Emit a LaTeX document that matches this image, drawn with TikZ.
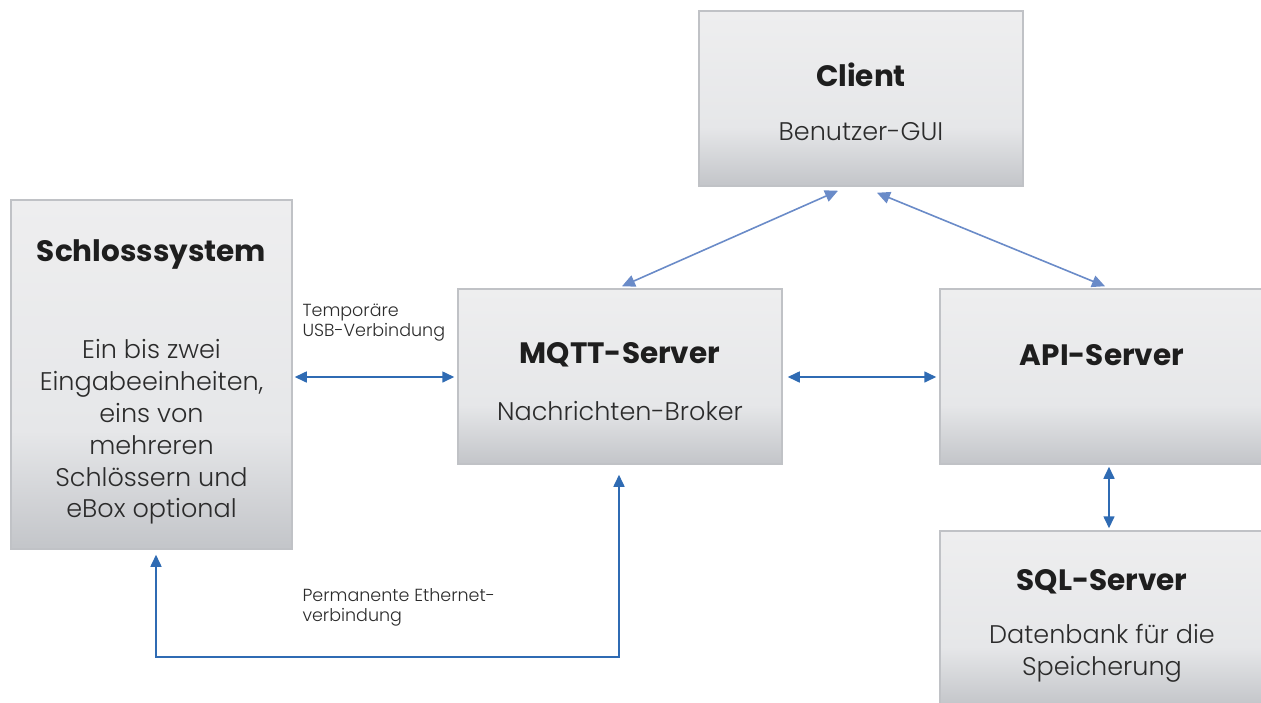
\documentclass[tikz,border=0pt]{standalone}
\usepackage{fontspec}
\setmainfont{Poppins}
\newfontfamily\lightfont{Poppins Light}
\usetikzlibrary{arrows.meta,calc}
\definecolor{boxtop}{HTML}{EEEEEF}
\definecolor{boxmid}{HTML}{E6E7E9}
\definecolor{boxbot}{HTML}{C3C5C9}
\definecolor{boxline}{HTML}{C0C2C6}
\definecolor{linkdark}{HTML}{2F6BB3}
\definecolor{linklight}{HTML}{6A8BC8}
\definecolor{ink}{HTML}{1E1E1E}
\definecolor{softink}{HTML}{2B2B2B}
\pgfdeclareverticalshading{boxshade}{100bp}{%
  color(0bp)=(boxbot); color(25bp)=(boxbot); color(42bp)=(boxmid);
  color(75bp)=(boxtop); color(100bp)=(boxtop)}
\tikzset{
  panel/.style={rectangle, draw=boxline, line width=1.5pt, shading=boxshade,
    inner sep=0pt, minimum width=324pt, minimum height=175pt},
  title/.style={font=\fontsize{29.5}{34}\selectfont\bfseries, text=ink},
  body/.style={font=\lightfont\fontsize{25.5}{31.8}\selectfont, text=softink, align=center},
  note/.style={font=\lightfont\fontsize{17.5}{20.5}\selectfont, text=softink, align=left, anchor=north west},
  link/.style={draw=linkdark, line width=1.6pt, {Triangle[length=12pt,width=11pt]}-{Triangle[length=12pt,width=11pt]}},
  softlink/.style={draw=linklight, line width=1.6pt, {Triangle[length=13pt,width=12pt]}-{Triangle[length=13pt,width=12pt]}},
}
\begin{document}
\begin{tikzpicture}[x=1pt,y=-1pt]
\useasboundingbox (0,0) rectangle (1261,702);
\clip (0,0) rectangle (1261,702);

% boxes
\node[panel] (client) at (861,98.5) {};
\node[panel, minimum width=281pt, minimum height=349pt] (schloss) at (151.5,374.5) {};
\node[panel] (mqtt) at (620,376.5) {};
\node[panel, minimum width=338pt] (api) at (1109,376.5) {};
\node[panel, minimum width=338pt] (sql) at (1109,618.5) {};

% box texts
\node[title] (client-t) at (861,75) {Client};
\node[body] (client-b) at (861,132) {Benutzer-GUI};
\node[title] (schloss-t) at (151.5,254) {Schlosssystem};
\node[body] (schloss-b) at (151.5,432) {Ein bis zwei\\Eingabeeinheiten,\\eins von\\mehreren\\Schlössern und\\eBox optional};
\node[title] (mqtt-t) at (620,355) {MQTT-Server};
\node[body] (mqtt-b) at (620,411) {Nachrichten-Broker};
\node[title] (api-t) at (1102,355) {API-Server};
\node[title] (sql-t) at (1102,582) {SQL-Server};
\node[body] (sql-b) at (1102,653) {Datenbank für die\\Speicherung};

% connector labels
\node[note] (usb-l) at (299,300) {Temporäre\\USB-Verbindung};
\node[note] (eth-l) at (299,585) {Permanente Ethernet-\\verbindung};

% connectors
\draw[softlink] ([xshift=-23pt,yshift=-4pt]client.south) -- ([xshift=2pt,yshift=2pt]mqtt.north);
\draw[softlink] ([xshift=16pt,yshift=-6pt]client.south) -- ([xshift=-4pt,yshift=2pt]api.north);
\draw[link] ([xshift=2pt]schloss.east |- 0,377) coordinate (usbL) -- ([xshift=-3pt]mqtt.west |- usbL);
\draw[link] ([xshift=5pt]mqtt.east |- usbL) -- ([xshift=-3pt]api.west |- usbL);
\draw[link] ([yshift=-2pt]api.south) -- ([yshift=2pt]sql.north);
\coordinate (ethR) at (619,657);
\coordinate (ethL) at (156,657);
\draw[link] ([yshift=-10pt]mqtt.south -| ethR) -- (ethR) -- (ethL) -- ([yshift=-5pt]schloss.south -| ethL);
\end{tikzpicture}
\end{document}
